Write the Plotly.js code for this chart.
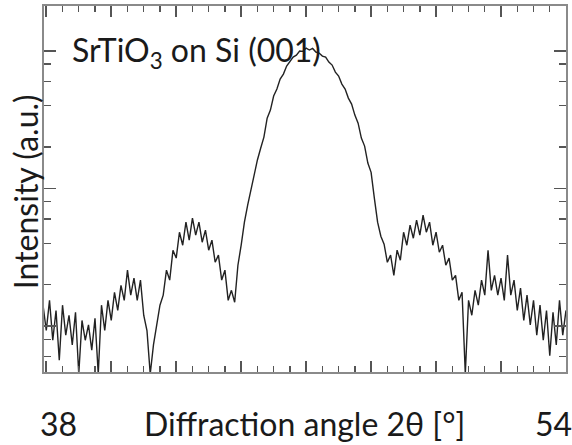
<!DOCTYPE html>
<html>
<head>
<meta charset="utf-8">
<script src="https://cdn.plot.ly/plotly-3.0.1.min.js"></script>
<style>
html,body{margin:0;padding:0;background:#fff;}
#chart{width:572px;height:445px;}
</style>
</head>
<body>
<div id="chart"></div>
<script>
// Diffraction angle 2θ (degrees)
var angle = [
37.9,38.0,38.1,38.2,38.3,38.4,38.5,38.6,38.7,38.8,38.9,
39.0,39.1,39.2,39.3,39.4,39.5,39.6,39.7,39.8,39.9,
40.0,40.1,40.2,40.3,40.4,40.5,40.6,40.7,40.8,40.9,
41.0,41.1,41.2,41.3,41.4,41.5,41.6,41.7,41.8,41.9,
42.0,42.1,42.2,42.3,42.4,42.5,42.6,42.7,42.8,42.9,
43.0,43.1,43.2,43.3,43.4,43.5,43.6,43.7,43.8,43.9,
44.0,44.1,44.2,44.3,44.4,44.5,44.6,44.7,44.8,44.9,
45.0,45.1,45.2,45.3,45.4,45.5,45.6,45.7,45.8,45.9,
46.0,46.1,46.2,46.3,46.4,46.5,46.6,46.7,46.8,46.9,
47.0,47.1,47.2,47.3,47.4,47.5,47.6,47.7,47.8,47.9,
48.0,48.1,48.2,48.3,48.4,48.5,48.6,48.7,48.8,48.9,
49.0,49.1,49.2,49.3,49.4,49.5,49.6,49.7,49.8,49.9,
50.0,50.1,50.2,50.3,50.4,50.5,50.6,50.7,50.8,50.9,
51.0,51.1,51.2,51.3,51.4,51.5,51.6,51.7,51.8,51.9,
52.0,52.1,52.2,52.3,52.4,52.5,52.6,52.7,52.8,52.9,
53.0,53.1,53.2,53.3,53.4,53.5,53.6,53.7,53.8,53.9,
54.0
];
// Intensity (arbitrary units, log scale)
var intensity = [
14.2,9.3,15.4,7.9,13.0,5.65,14.2,8.6,12.0,7.3,12.6,
4.5,11.0,7.9,10.2,6.7,11.4,4.5,14.2,9.3,15.4,
11.0,17.6,13.0,19.8,15.4,25.5,16.8,22.3,15.4,21.6,
12.0,9.3,4.5,7.3,10.2,14.2,16.8,25.5,21.6,35.6,
31.2,48.1,38.7,56.9,42.1,60.8,45.8,56.9,40.7,49.8,
35.6,42.1,29.1,32.8,21.6,25.5,15.4,18.2,14.9,27.7,
38.7,56.9,75.6,97.2,131,161,196,236,324,371,
469,527,623,677,774,828,900,930,995,990,
1046,1012,1040,979,962,915,900,828,787,700,
655,573,527,453,410,341,298,232,203,153,
131,85.0,56.9,45.0,39.4,29.1,32.8,23.4,35.6,30.1,
48.1,38.7,54.1,43.5,58.8,45.8,64.0,48.1,56.9,38.7,
48.1,34.4,38.7,27.7,31.2,21.6,23.4,15.4,17.6,4.5,
15.4,12.0,18.2,14.2,21.6,16.8,35.6,18.2,23.4,16.8,
22.3,15.4,32.8,16.8,21.6,13.0,18.9,11.0,16.8,10.2,
15.4,8.6,14.2,7.9,13.0,6.1,12.6,7.3,15.4,8.6,
13.0
];
var yMajor = [10, 100, 1000];
var yMinor = [4, 6, 8, 20, 40, 60, 80, 200, 400, 600, 800];
var titleText = 'SrTiO<sub>3</sub> on Si (001)';
var xTitleText = 'Diffraction angle 2θ [°]';
var yTitleText = 'Intensity (a.u.)';
var xStartLabel = '38';
var xEndLabel = '54';

var FONT = 'Lato, "DejaVu Sans", sans-serif';
var FS = 32;
var txtColor = '#1a1a1a';

var trace = {
  x: angle, y: intensity, type: 'scatter', mode: 'lines',
  line: {color: '#222222', width: 1.4},
  hoverinfo: 'skip'
};

var layout = {
  width: 572, height: 445,
  margin: {l: 44, r: 6, t: 6, b: 73, pad: 0},
  paper_bgcolor: '#ffffff', plot_bgcolor: '#ffffff',
  showlegend: false,
  xaxis: {
    range: [37.93, 54.0],
    showgrid: false, zeroline: false,
    showline: true, linecolor: '#8a8a8a', linewidth: 2, mirror: 'ticks',
    ticks: 'inside', ticklen: 11, tickwidth: 1.6, tickcolor: '#555555',
    tickmode: 'linear', tick0: 38, dtick: 2,
    showticklabels: false,
    minor: {ticks: 'inside', ticklen: 6, tickwidth: 1.4, tickcolor: '#555555', tickmode: 'linear', tick0: 38, dtick: 0.5, showgrid: false}
  },
  yaxis: {
    type: 'log',
    range: [0.667, 3.325],
    showgrid: false, zeroline: false,
    showline: true, linecolor: '#8a8a8a', linewidth: 2, mirror: 'ticks',
    ticks: 'inside', ticklen: 12, tickwidth: 1.6, tickcolor: '#555555',
    tickmode: 'array', tickvals: yMajor,
    showticklabels: false,
    minor: {ticks: 'inside', ticklen: 7, tickwidth: 1.4, tickcolor: '#555555', tickmode: 'array', tickvals: yMinor, showgrid: false}
  },
  annotations: [
    {text: titleText, xref: 'paper', yref: 'paper', x: 0.049, y: 0.873, xanchor: 'left', yanchor: 'middle', showarrow: false, font: {family: FONT, size: FS, color: txtColor}},
    {text: xStartLabel, xref: 'paper', yref: 'paper', x: 0.0278, y: -0.140, xanchor: 'center', yanchor: 'middle', showarrow: false, font: {family: FONT, size: FS, color: txtColor}},
    {text: xEndLabel, xref: 'paper', yref: 'paper', x: 0.977, y: -0.140, xanchor: 'center', yanchor: 'middle', showarrow: false, font: {family: FONT, size: FS, color: txtColor}},
    {text: xTitleText, xref: 'paper', yref: 'paper', x: 0.4986, y: -0.140, xanchor: 'center', yanchor: 'middle', showarrow: false, font: {family: FONT, size: FS, color: txtColor}},
    {text: yTitleText, xref: 'paper', yref: 'paper', x: -0.0354, y: 0.4928, xanchor: 'center', yanchor: 'middle', textangle: -90, showarrow: false, font: {family: FONT, size: FS, color: txtColor}}
  ]
};

Plotly.newPlot('chart', [trace], layout, {displayModeBar: false, staticPlot: true});
</script>
</body>
</html>
